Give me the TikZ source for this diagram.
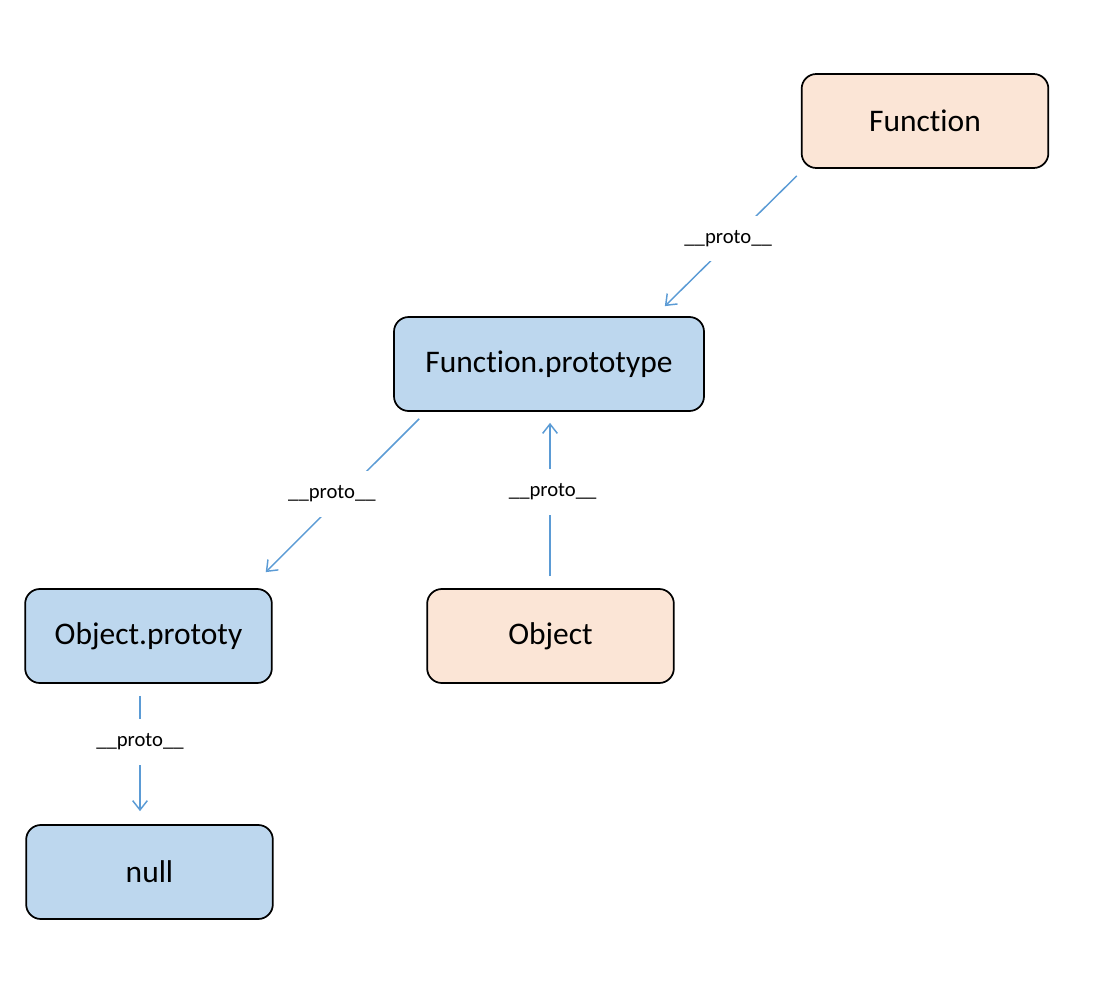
\documentclass[tikz,border=0pt]{standalone}
\usepackage{fontspec}
\setmainfont{Carlito}[Ligatures=NoCommon]
\usepackage{xcolor}
\usepackage{tikz}
\usetikzlibrary{arrows.meta}
\definecolor{peach}{HTML}{FBE5D6}
\definecolor{paleblue}{HTML}{BDD7EE}
\definecolor{linkblue}{HTML}{5B9BD5}
\newcommand{\boxfont}{\fontsize{23.6}{28}\selectfont}
\newcommand{\protofont}{\fontsize{15.5}{18}\selectfont}

\begin{document}
\begin{tikzpicture}[x=0.75pt,y=-0.75pt,
  objbox/.style={draw=black,line width=1.3pt,rounded corners=11pt,minimum width=185pt,minimum height=70.5pt,font=\boxfont},
  link/.style={draw=linkblue,line width=1.1pt,-{Straight Barb[length=7pt,width=11pt]}},
  protolbl/.style={fill=white,inner xsep=3pt,inner ysep=11pt,font=\protofont}]
%\draw[help lines, color=gray!30, dashed] (0,0) grid[step=50] (1095,981);
\useasboundingbox (0,0) rectangle (1095,981);
\node[objbox,fill=peach] (fn) at (925,121) {Function};
\node[objbox,fill=paleblue,minimum width=232.5pt] (fnproto) at (549,364) {Function.prototype};
\node[objbox,fill=paleblue] (objproto) at (148.5,636) {Object.prototy};
\node[objbox,fill=peach] (obj) at (550.5,636) {Object};
\node[objbox,fill=paleblue] (nul) at (149.5,872) {null};
\draw[link] ([shift={(-4,7)}]fn.south west) -- node[protolbl,pos=0.48,xshift=-4pt]{\_\_proto\_\_} ([shift={(-40,-10)}]fnproto.north east);
\draw[link] ([shift={(26,7)}]fnproto.south west) -- node[protolbl,pos=0.49,xshift=-9pt]{\_\_proto\_\_} ([shift={(-7,-16)}]objproto.north east);
\draw[link] ([shift={(-0.5,-12)}]obj.north) -- node[protolbl,pos=0.55,xshift=2pt]{\_\_proto\_\_} ([shift={(1,11)}]fnproto.south);
\draw[link] ([shift={(-8.5,12)}]objproto.south) -- node[protolbl,pos=0.4]{\_\_proto\_\_} ([shift={(-9.5,-13)}]nul.north);
\end{tikzpicture}
\end{document}
